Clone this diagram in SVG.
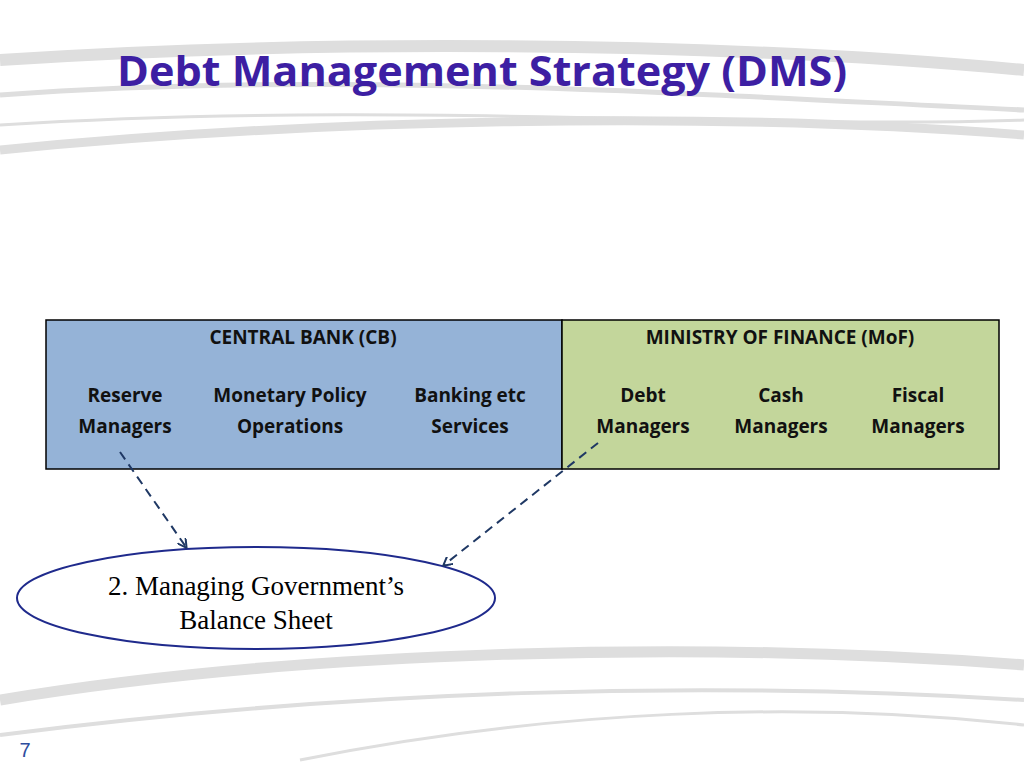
<svg xmlns="http://www.w3.org/2000/svg" width="1024" height="768" viewBox="0 0 1024 768">
<defs>
<style>
.h{font-family:"Open Sans","Liberation Sans",sans-serif;font-weight:bold;font-size:19px;fill:#111;text-anchor:middle}
.sw{fill:none;stroke:#dedede}
.c{stroke:#1f3864;stroke-width:2;stroke-dasharray:9,6;fill:none;marker-end:url(#a)}
</style>
<marker id="a" markerWidth="10" markerHeight="10" refX="8" refY="5" orient="auto" markerUnits="userSpaceOnUse"><path d="M0,0 L9,5 L0,10" fill="none" stroke="#1f3864" stroke-width="2"/></marker>
</defs>
<rect width="1024" height="768" fill="#fff"/>
<g id="swooshes">
<path class="sw" stroke-width="12" d="M0,60 C300,40 700,40 1024,70"/>
<path class="sw" stroke-width="5" d="M0,95 C350,70 700,95 1024,110"/>
<path class="sw" stroke-width="9" d="M0,150 C300,120 700,110 1024,135"/>
<path class="sw" stroke-width="3" d="M0,125 C400,100 750,130 1024,120"/>
<path class="sw" stroke-width="11" d="M0,700 C300,650 700,640 1024,665"/>
<path class="sw" stroke-width="4" d="M0,735 C350,690 700,680 1024,700"/>
<path class="sw" stroke-width="3" d="M300,760 C550,710 800,700 1024,725"/>
</g>
<text x="482" y="86" font-family="'Open Sans','Liberation Sans',sans-serif" font-weight="bold" font-size="42" fill="#3d1fa3" text-anchor="middle" textLength="730" lengthAdjust="spacingAndGlyphs">Debt Management Strategy (DMS)</text>
<g id="cb">
<rect x="46" y="320" width="516" height="149" fill="#95b3d7" stroke="#000" stroke-width="1.5"/>
<text class="h" x="303" y="344">CENTRAL BANK (CB)</text>
<text class="h" x="125" y="402">Reserve</text><text class="h" x="125" y="433">Managers</text>
<text class="h" x="290" y="402">Monetary Policy</text><text class="h" x="290" y="433">Operations</text>
<text class="h" x="470" y="402">Banking etc</text><text class="h" x="470" y="433">Services</text>
</g>
<g id="mof">
<rect x="562" y="320" width="437" height="149" fill="#c3d69b" stroke="#000" stroke-width="1.5"/>
<text class="h" x="780" y="344">MINISTRY OF FINANCE (MoF)</text>
<text class="h" x="643" y="402">Debt</text><text class="h" x="643" y="433">Managers</text>
<text class="h" x="781" y="402">Cash</text><text class="h" x="781" y="433">Managers</text>
<text class="h" x="918" y="402">Fiscal</text><text class="h" x="918" y="433">Managers</text>
</g>
<g id="goal">
<ellipse cx="256" cy="598" rx="239" ry="51" fill="#fff" stroke="#1f2a8c" stroke-width="2"/>
<text x="256" y="595" font-family="'Liberation Serif',serif" font-size="27" text-anchor="middle">2. Managing Government’s</text>
<text x="256" y="629" font-family="'Liberation Serif',serif" font-size="27" text-anchor="middle">Balance Sheet</text>
</g>
<g id="connectors">
<path class="c" d="M120,452 L186,547"/>
<path class="c" d="M598,443 L444,565"/>
</g>
<text x="25" y="757" font-family="'Liberation Sans',sans-serif" font-size="20" fill="#2e4d9e" text-anchor="middle">7</text>
</svg>
